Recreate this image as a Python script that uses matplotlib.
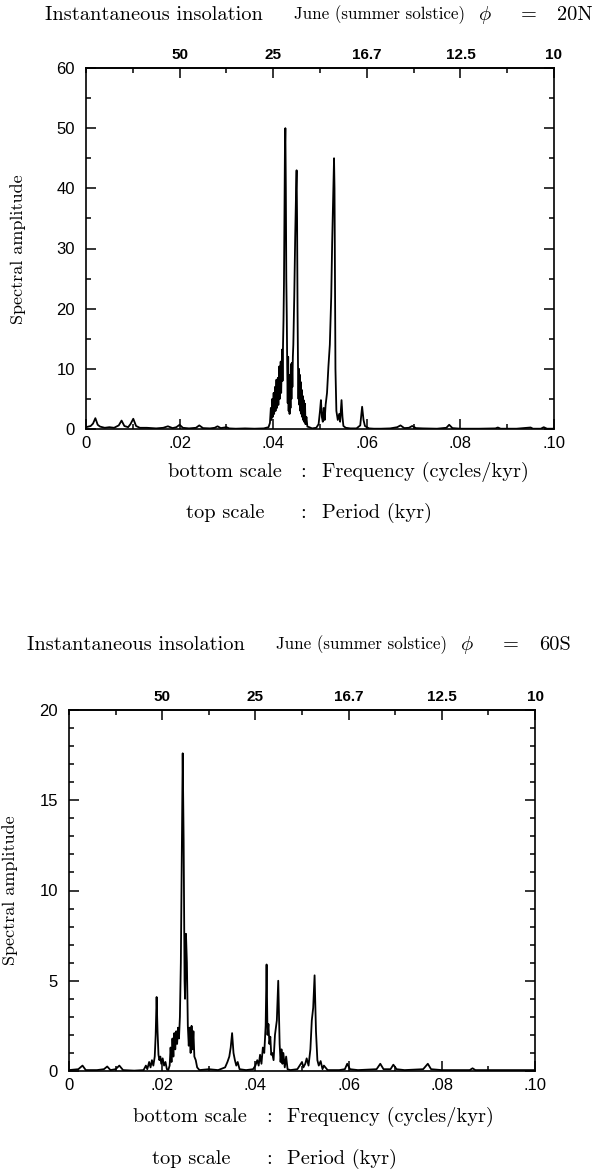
import matplotlib
matplotlib.use('Agg')
import matplotlib.pyplot as plt
from matplotlib.ticker import MultipleLocator

plt.rcParams['font.family'] = ['Liberation Sans', 'DejaVu Sans']
plt.rcParams['mathtext.fontset'] = 'cm'

# ---------------- data ----------------
bottom_ticks = [0.0, 0.02, 0.04, 0.06, 0.08, 0.10]
bottom_labels = ['0', '.02', '.04', '.06', '.08', '.10']
top_ticks = [0.02, 0.04, 0.06, 0.08, 0.10]
top_labels = ['50', '25', '16.7', '12.5', '10']

# Panel 1: phi = 20N
freq1 = [0.0000, 0.0010, 0.0015, 0.0020, 0.0025, 0.0030, 0.0040, 0.0050, 0.0060, 0.0070,
         0.0076, 0.0082, 0.0090, 0.0095, 0.0101, 0.0107, 0.0115, 0.0130, 0.0150, 0.0165,
         0.0175, 0.0185, 0.0193, 0.0200, 0.0207, 0.0220, 0.0235, 0.0242, 0.0250, 0.0265,
         0.0275, 0.0281, 0.0288, 0.0300, 0.0306, 0.0320, 0.0340, 0.0360, 0.0380, 0.0390,
         0.0393, 0.0395, 0.0396, 0.0398, 0.0399, 0.0401, 0.0402, 0.0404, 0.0405, 0.0407,
         0.0408, 0.0410, 0.0411, 0.0413, 0.0414, 0.0416, 0.0417, 0.0419, 0.0420, 0.0421,
         0.0422, 0.0423, 0.0424, 0.0425, 0.0426, 0.0427, 0.0428, 0.0429, 0.0430, 0.0431,
         0.0432, 0.0433, 0.0434, 0.0435, 0.0436, 0.0437, 0.0438, 0.0439, 0.0440, 0.0441,
         0.0442, 0.0443, 0.0445, 0.0447, 0.0449, 0.0450, 0.0451, 0.0452, 0.0453, 0.0454,
         0.0455, 0.0456, 0.0457, 0.0458, 0.0459, 0.0460, 0.0461, 0.0462, 0.0463, 0.0464,
         0.0465, 0.0466, 0.0468, 0.0469, 0.0471, 0.0473, 0.0477, 0.0483, 0.0492, 0.0497,
         0.0500, 0.0502, 0.0504, 0.0506, 0.0508, 0.0510, 0.0512, 0.0515, 0.0518, 0.0521,
         0.0524, 0.0526, 0.0528, 0.0530, 0.0531, 0.0532, 0.0533, 0.0535, 0.0538, 0.0541,
         0.0543, 0.0546, 0.0548, 0.0550, 0.0555, 0.0565, 0.0578, 0.0586, 0.0590, 0.0593,
         0.0596, 0.0600, 0.0605, 0.0615, 0.0630, 0.0650, 0.0665, 0.0672, 0.0680, 0.0690,
         0.0697, 0.0705, 0.0720, 0.0750, 0.0770, 0.0776, 0.0783, 0.0800, 0.0840, 0.0875,
         0.0880, 0.0886, 0.0920, 0.0950, 0.0955, 0.0962, 0.0972, 0.0978, 0.0985, 0.1000]
amp1 = [0.3, 0.5, 0.9, 1.8, 0.7, 0.4, 0.2, 0.3, 0.2, 0.6,
        1.4, 0.5, 0.3, 0.8, 1.7, 0.5, 0.2, 0.2, 0.1, 0.2,
        0.45, 0.15, 0.3, 0.7, 0.2, 0.1, 0.2, 0.6, 0.15, 0.1,
        0.2, 0.45, 0.15, 0.3, 0.1, 0.05, 0.1, 0.05, 0.1, 0.3,
        1.0, 3.5, 1.5, 5.0, 2.0, 6.0, 2.5, 7.0, 3.0, 8.2,
        3.5, 8.5, 4.0, 10.4, 5.0, 11.2, 6.0, 13.2, 8.0, 14.0,
        18.0, 24.0, 36.0, 46.0, 50.0, 40.0, 25.0, 18.7, 10.0, 4.3,
        12.0, 3.0, 9.0, 2.5, 8.0, 3.5, 10.8, 5.0, 11.0, 7.0,
        12.0, 14.0, 22.0, 32.0, 40.0, 43.0, 35.0, 20.0, 10.5, 5.0,
        10.0, 4.0, 9.0, 3.0, 7.8, 2.5, 6.5, 2.0, 5.5, 1.5,
        4.8, 1.2, 4.2, 0.8, 2.0, 0.4, 0.3, 0.1, 0.2, 0.8,
        3.0, 4.8, 2.0, 1.2, 3.5, 1.5, 4.0, 6.0, 10.4, 14.0,
        22.0, 31.0, 38.0, 45.0, 40.0, 24.8, 10.0, 3.0, 1.5, 2.5,
        1.2, 4.8, 2.0, 0.5, 0.2, 0.1, 0.1, 0.6, 3.7, 1.5,
        0.5, 0.3, 0.1, 0.05, 0.05, 0.1, 0.3, 0.6, 0.15, 0.2,
        0.5, 0.15, 0.1, 0.05, 0.2, 0.7, 0.15, 0.05, 0.05, 0.1,
        0.25, 0.05, 0.05, 0.25, 0.05, 0.05, 0.05, 0.3, 0.05, 0.05]

# Panel 2: phi = 60S
freq2 = [0.0000, 0.0020, 0.0029, 0.0036, 0.0060, 0.0075, 0.0082, 0.0089, 0.0100, 0.0108,
         0.0116, 0.0140, 0.0160, 0.0165, 0.0168, 0.0172, 0.0175, 0.0178, 0.0181, 0.0184,
         0.0186, 0.0188, 0.0190, 0.0192, 0.0194, 0.0196, 0.0198, 0.0201, 0.0204, 0.0207,
         0.0210, 0.0213, 0.0216, 0.0218, 0.0220, 0.0222, 0.0224, 0.0226, 0.0228, 0.0230,
         0.0232, 0.0234, 0.0236, 0.0238, 0.0240, 0.0242, 0.0244, 0.0246, 0.0248, 0.0249,
         0.0251, 0.0253, 0.0255, 0.0257, 0.0259, 0.0261, 0.0263, 0.0265, 0.0267, 0.0269,
         0.0272, 0.0275, 0.0280, 0.0300, 0.0320, 0.0335, 0.0340, 0.0344, 0.0347, 0.0350,
         0.0353, 0.0356, 0.0359, 0.0362, 0.0366, 0.0380, 0.0395, 0.0400, 0.0404, 0.0407,
         0.0410, 0.0413, 0.0416, 0.0419, 0.0422, 0.0424, 0.0426, 0.0428, 0.0430, 0.0432,
         0.0434, 0.0436, 0.0439, 0.0442, 0.0446, 0.0449, 0.0452, 0.0454, 0.0456, 0.0458,
         0.0460, 0.0463, 0.0466, 0.0469, 0.0475, 0.0490, 0.0500, 0.0503, 0.0507, 0.0510,
         0.0514, 0.0518, 0.0521, 0.0524, 0.0527, 0.0530, 0.0533, 0.0536, 0.0540, 0.0544,
         0.0547, 0.0555, 0.0580, 0.0592, 0.0597, 0.0603, 0.0620, 0.0660, 0.0668, 0.0675,
         0.0690, 0.0696, 0.0703, 0.0720, 0.0760, 0.0770, 0.0777, 0.0800, 0.0860, 0.0866,
         0.0872, 0.1000]
amp2 = [0.05, 0.1, 0.3, 0.05, 0.05, 0.1, 0.25, 0.05, 0.1, 0.3,
        0.05, 0.02, 0.05, 0.3, 0.1, 0.5, 0.2, 0.6, 0.3, 0.8,
        2.0, 4.1, 2.2, 0.9, 0.6, 0.8, 0.4, 0.7, 0.3, 0.5,
        0.1, 0.05, 0.3, 1.3, 0.5, 1.8, 0.8, 2.1, 1.2, 2.2,
        1.5, 2.4, 1.8, 3.0, 6.0, 12.0, 17.6, 12.8, 5.0, 4.0,
        7.6, 6.0, 2.5, 1.4, 2.4, 1.0, 2.5, 1.2, 2.2, 0.8,
        0.6, 0.2, 0.05, 0.1, 0.05, 0.2, 0.5, 0.8, 1.3, 2.1,
        1.0, 0.6, 0.3, 0.5, 0.1, 0.05, 0.1, 0.3, 0.6, 0.3,
        0.9, 0.4, 1.3, 1.0, 2.5, 5.9, 2.0, 2.6, 1.5, 1.9,
        0.9, 1.0, 0.6, 2.0, 2.8, 5.0, 1.5, 0.5, 1.2, 0.4,
        1.0, 0.2, 0.8, 0.1, 0.05, 0.1, 0.5, 0.2, 0.4, 0.7,
        0.3, 1.2, 2.8, 3.5, 5.3, 2.2, 0.6, 0.3, 0.55, 0.1,
        0.3, 0.05, 0.05, 0.1, 0.4, 0.1, 0.05, 0.1, 0.4, 0.1,
        0.1, 0.35, 0.1, 0.05, 0.1, 0.4, 0.1, 0.05, 0.05, 0.15,
        0.05, 0.05]

SERIF = 'cmr10'
TXT = 14.7
W, H = 601, 1174
fig = plt.figure(figsize=(W / 100, H / 100), dpi=100)


def px(x, y):
    return x / W, 1 - y / H


def panel(left, top, right, bottom, freq, amp, ymax, ymaj, ymin):
    ax = fig.add_axes([left / W, 1 - bottom / H, (right - left) / W, (bottom - top) / H])
    ax.plot(freq, amp, color='black', lw=1.3)
    ax.set_xlim(0, 0.1)
    ax.set_ylim(0, ymax)
    ax.set_xticks(bottom_ticks, labels=bottom_labels)
    ax.xaxis.set_minor_locator(MultipleLocator(0.01))
    ax.yaxis.set_major_locator(MultipleLocator(ymaj))
    ax.yaxis.set_minor_locator(MultipleLocator(ymin))
    ax.tick_params(which='both', direction='in', top=False, right=True,
                   labelsize=12, width=1.1)
    ax.tick_params(which='major', length=7)
    ax.tick_params(which='minor', length=3.5)
    ax.tick_params(axis='x', pad=5)
    ax.tick_params(axis='y', pad=8)
    for s in ax.spines.values():
        s.set_linewidth(1.2)
    sec = ax.secondary_xaxis('top')
    sec.set_xticks(top_ticks, labels=top_labels)
    sec.xaxis.set_minor_locator(MultipleLocator(0.01))
    sec.tick_params(which='both', direction='in', labelsize=11, width=1.1, pad=4)
    sec.tick_params(which='major', length=7)
    sec.tick_params(which='minor', length=3.5)
    for lbl in sec.get_xticklabels():
        lbl.set_fontweight('bold')
    sec.spines['top'].set_linewidth(1.2)
    return ax


def serif_text(x, y, s, size=TXT, **kw):
    fig.text(*px(x, y), s, family=SERIF, fontsize=size, va='center', ha='left', **kw)


def title(x0, y, lat):
    serif_text(x0, y, 'Instantaneous insolation')
    serif_text(x0 + 249, y, 'June (summer solstice)', size=12.2)
    serif_text(x0 + 433, y, r'$\phi$')
    serif_text(x0 + 476, y, '=')
    serif_text(x0 + 512, y, lat)


# ---------- panel 1 ----------
panel(86, 68, 554, 429, freq1, amp1, 60, 10, 5)
title(45, 15, '20N')
fig.text(*px(18, 249), 'Spectral amplitude', family=SERIF, fontsize=13,
         rotation=90, va='center', ha='center')
serif_text(168, 472, 'bottom scale')
serif_text(300, 472, ':')
serif_text(322, 472, 'Frequency (cycles/kyr)')
serif_text(186, 513, 'top scale')
serif_text(300, 513, ':')
serif_text(322, 513, 'Period (kyr)')

# ---------- panel 2 ----------
panel(69, 710, 535, 1071, freq2, amp2, 20, 5, 1)
title(27, 645, '60S')
fig.text(*px(10, 890), 'Spectral amplitude', family=SERIF, fontsize=13,
         rotation=90, va='center', ha='center')
serif_text(133, 1117, 'bottom scale')
serif_text(266, 1117, ':')
serif_text(287, 1117, 'Frequency (cycles/kyr)')
serif_text(152, 1159, 'top scale')
serif_text(266, 1159, ':')
serif_text(287, 1159, 'Period (kyr)')

fig.savefig('out.png', dpi=100)
